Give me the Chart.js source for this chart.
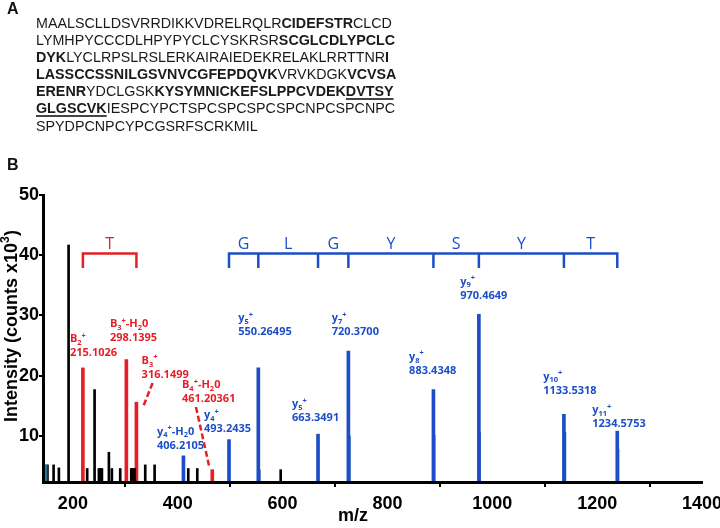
<!DOCTYPE html>
<html>
<head>
<meta charset="utf-8">
<script src="https://cdn.jsdelivr.net/npm/chart.js@4.4.1/dist/chart.umd.min.js"></script>
<style>
  html, body { margin: 0; padding: 0; background: #fff; }
  #wrap { position: relative; width: 720px; height: 528px; overflow: hidden; }
  #chart { position: absolute; left: 0; top: 0; }
  .panel { position: absolute; left: 7px; font: bold 16px "Liberation Sans", Arial, sans-serif; line-height: 16px; color: #111; }
  #seq { position: absolute; left: 36px; top: 15px; font: 14.3px "Liberation Sans", Arial, sans-serif;
         line-height: 17.1px; white-space: nowrap; color: #1a1a1a; }
  #seq u { text-decoration-thickness: 1.5px; text-underline-offset: 2px; text-decoration-color: #444; }
</style>
</head>
<body>
<div id="wrap">
  <canvas id="chart" width="720" height="528"></canvas>
  <div class="panel" style="top:1px">A</div>
  <div id="seq"></div>
  <div class="panel" style="top:157px">B</div>
</div>
<script>
// panel A: sequence, segments are [text, style] with b = bold, bu = bold + underline
const sequenceLines = [
  [['MAALSCLLDSVRRDIKKVDRELRQLR', ''], ['CIDEFSTR', 'b'], ['CLCD', '']],
  [['LYMHPYCCCDLHPYPYCLCYSKRSR', ''], ['SCGLCDLYPCLC', 'b']],
  [['DYK', 'b'], ['LYCLRPSLRSLERKAIRAIEDEKRELAKLRRTTNR', ''], ['I', 'b']],
  [['LASSCCSSNILGSVNVCGFEPDQVK', 'b'], ['VRVKDGK', ''], ['VCVSA', 'b']],
  [['ERENR', 'b'], ['YDCLGSK', ''], ['KYSYMNICKEFSLPPCVDEK', 'b'], ['DVTSY', 'bu']],
  [['GLGSCVK', 'bu'], ['IESPCYPCTSPCSPCSPCSPCNPCSPCNPC', '']],
  [['SPYDPCNPCYPCGSRFSCRKMIL', '']]
];

// panel B: peaks (m/z, intensity x10^3)
const blackMz  = [151.5, 163.2, 173.3, 191.8, 227.3, 241.4, 249.6, 252.5, 255.4, 268.7, 274.4, 290.3,
                  311.3, 314.5, 317.8, 338.0, 355.9, 420.1, 437.3, 596.4];
const blackInt = [5.2, 5.2, 4.7, 41.7, 4.6, 17.7, 4.6, 4.6, 4.6, 7.3, 4.6, 4.6,
                  4.6, 4.6, 4.6, 5.2, 5.2, 4.6, 4.6, 4.4];
const tealMz   = [146.5, 149.0];
const tealInt  = [5.2, 5.2];
const redMz    = [219.1, 302.0, 321.2, 465.9];
const redInt   = [21.3, 22.7, 15.6, 4.4];
const blueMz   = [410.9, 497.8, 553.7, 667.6, 725.5, 887.7, 974.4, 1136.6, 1238.4];
const blueInt  = [6.7, 9.4, 21.3, 10.3, 24.1, 17.7, 30.2, 13.6, 10.8];
const shoulderMz  = [555.6, 727.4, 889.1, 975.6, 1138.5, 1239.7];
const shoulderInt = [4.4, 10.0, 10.1, 10.6, 10.6, 7.8];

const xTickValues = [200, 400, 600, 800, 1000, 1200, 1400];
const yTickValues = [10, 20, 30, 40, 50];

// sequence brackets
const bBracketMz = [219.1, 321.2];
const bBracketAa = ['T'];
const yBracketMz = [497.8, 553.7, 667.6, 725.5, 887.7, 974.4, 1136.6, 1238.4];
const yBracketAa = ['G', 'L', 'G', 'Y', 'S', 'Y', 'T'];
const bracketTop = 40.3;
const bracketFoot = 38.1;
const bracketLetterAt = 41.0;

// ion labels: name, m/z text, anchor (m/z, intensity)
const bIonNames  = ['B_2^+', 'B_3^+-H_20', 'B_3^+', 'B_4^+-H_20'];
const bIonValues = ['215.1026', '298.1395', '316.1499', '461.20361'];
const bIonMz     = [194.3, 270.6, 331.1, 408.1];
const bIonInt    = [26.2, 28.7, 22.6, 18.6];
const yIonNames  = ['y_4^+-H_20', 'y_4^+', 'y_5^+', 'y_5^+', 'y_7^+', 'y_8^+', 'y_9^+', 'y_{10}^+', 'y_{11}^+'];
const yIonValues = ['406.2105', '493.2435', '550.26495', '663.3491', '720.3700', '883.4348', '970.4649', '1133.5318', '1234.5753'];
const yIonMz     = [360.3, 450.0, 515.5, 618.0, 693.8, 841.3, 938.7, 1097.1, 1190.7];
const yIonInt    = [10.9, 13.6, 29.7, 15.4, 29.7, 23.3, 35.8, 20.0, 14.4];

// dashed leader lines from B3+ and B4+-H2O labels to their peaks
const leaderFrom = [[352.1, 18.8], [434.8, 14.8]];
const leaderTo   = [[334.2, 14.9], [459.6, 5.1]];

const RED = 'rgb(228,32,38)';
const BLUE = 'rgb(28,78,200)';
const TEAL = 'rgb(40,115,155)';

document.getElementById('seq').innerHTML = sequenceLines.map(line =>
  line.map(([t, s]) => s === 'b' ? `<b>${t}</b>` : s === 'bu' ? `<b><u>${t}</u></b>` : t).join('')
).join('<br>');

const pts = (xs, ys) => xs.map((x, i) => ({x: x, y: ys[i]}));

function peakSet(xs, ys, color, width) {
  return {
    type: 'bar', data: pts(xs, ys), backgroundColor: color, borderWidth: 0,
    barThickness: width, grouped: false
  };
}

function bracketSet(ticks, color) {
  const first = ticks[0], last = ticks[ticks.length - 1];
  const data = [
    {x: first, y: bracketFoot}, {x: first, y: bracketTop}, {x: last, y: bracketTop},
    {x: last, y: bracketFoot}, {x: last, y: null}
  ];
  ticks.slice(1, -1).forEach(t => {
    data.push({x: t, y: bracketTop}, {x: t, y: bracketFoot}, {x: t, y: null});
  });
  return {
    type: 'line', data: data, borderColor: color, borderWidth: 2.5, pointRadius: 0,
    fill: false, spanGaps: false, tension: 0, borderCapStyle: 'square'
  };
}

function leaderSet(i) {
  return {
    type: 'line', data: [{x: leaderFrom[i][0], y: leaderFrom[i][1]}, {x: leaderTo[i][0], y: leaderTo[i][1]}],
    borderColor: RED, borderWidth: 2.5, borderDash: [6, 3], pointRadius: 0, fill: false
  };
}

function parseRich(str) {
  const parts = [];
  const re = /_\{([^}]*)\}|\^\{([^}]*)\}|_(.)|\^(.)|([^_^]+)/g;
  let m;
  while ((m = re.exec(str))) {
    if (m[1] !== undefined || m[3] !== undefined) parts.push({t: m[1] ?? m[3], k: 'sub'});
    else if (m[2] !== undefined || m[4] !== undefined) parts.push({t: m[2] ?? m[4], k: 'sup'});
    else parts.push({t: m[5], k: ''});
  }
  return parts;
}

function richFont(size, weight, family, k) {
  const s = k ? size * 0.68 : size;
  return `${weight} ${s}px ${family}`;
}

function measureRich(ctx, str, size, weight, family) {
  let w = 0;
  parseRich(str).forEach(p => { ctx.font = richFont(size, weight, family, p.k); w += ctx.measureText(p.t).width; });
  return w;
}

function drawRich(ctx, str, x, y, size, weight, family) {
  ctx.textAlign = 'left';
  ctx.textBaseline = 'alphabetic';
  parseRich(str).forEach(p => {
    const dy = p.k === 'sub' ? size * 0.25 : p.k === 'sup' ? -size * 0.42 : 0;
    ctx.font = richFont(size, weight, family, p.k);
    ctx.fillText(p.t, x, y + dy);
    x += ctx.measureText(p.t).width;
  });
}

const annotations = {
  id: 'annotations',
  afterDraw(chart) {
    const {ctx, chartArea, scales: {x, y}} = chart;
    ctx.save();
    const LF = '"Open Sans", "Liberation Sans", sans-serif';

    // amino-acid letters over the brackets
    ctx.font = `16px ${LF}`;
    ctx.textAlign = 'center';
    ctx.textBaseline = 'alphabetic';
    [[bBracketMz, bBracketAa, RED], [yBracketMz, yBracketAa, BLUE]].forEach(([ticks, aa, color]) => {
      ctx.fillStyle = color;
      aa.forEach((a, i) => {
        ctx.fillText(a, x.getPixelForValue((ticks[i] + ticks[i + 1]) / 2), y.getPixelForValue(bracketLetterAt));
      });
    });

    // ion labels
    [[bIonNames, bIonValues, bIonMz, bIonInt, RED], [yIonNames, yIonValues, yIonMz, yIonInt, BLUE]]
      .forEach(([names, values, mz, inten, color]) => {
        ctx.fillStyle = color;
        names.forEach((n, i) => {
          const px = x.getPixelForValue(mz[i]);
          const py = y.getPixelForValue(inten[i]) + 4;
          drawRich(ctx, n, px, py, 11, 'bold', LF);
          ctx.font = `bold 11px ${LF}`;
          ctx.fillText(values[i], px, py + 14);
        });
      });

    // axis titles
    const AF = '"Liberation Sans", Arial, sans-serif';
    ctx.fillStyle = '#000';
    const yTitle = 'Intensity (counts x10^3)';
    ctx.translate(chartArea.left - 26.5, chartArea.top + 131);
    ctx.rotate(-Math.PI / 2);
    drawRich(ctx, yTitle, -measureRich(ctx, yTitle, 18, 'bold', AF) / 2, 0, 18, 'bold', AF);
    ctx.setTransform(1, 0, 0, 1, 0, 0);
    ctx.font = `bold 18px ${AF}`;
    ctx.textAlign = 'center';
    ctx.fillText('m/z', chartArea.left + 310, chartArea.bottom + 39);
    ctx.restore();
  }
};

const tickFont = {family: '"Liberation Sans", Arial, sans-serif', size: 18, weight: 'bold'};

new Chart(document.getElementById('chart'), {
  type: 'bar',
  data: {
    datasets: [
      peakSet(tealMz, tealInt, TEAL, 2),
      peakSet(blackMz, blackInt, '#000', 2),
      peakSet(redMz, redInt, RED, 3),
      peakSet(blueMz, blueInt, BLUE, 3),
      peakSet(shoulderMz, shoulderInt, 'rgb(30,90,170)', 2),
      bracketSet(bBracketMz, RED),
      bracketSet(yBracketMz, BLUE),
      leaderSet(0),
      leaderSet(1)
    ]
  },
  options: {
    responsive: false,
    animation: false,
    events: [],
    devicePixelRatio: 1,
    layout: {padding: {top: 195, right: 18, bottom: 0, left: 0}},
    plugins: {legend: {display: false}, tooltip: {enabled: false}},
    scales: {
      x: {
        type: 'linear', min: 143, max: 1400, offset: false,
        afterBuildTicks: s => { s.ticks = xTickValues.map(v => ({value: v})); },
        afterFit: s => { s.height = 46; s.paddingLeft = 0; s.paddingRight = 0; },
        grid: {drawOnChartArea: false, tickLength: 5, color: '#000', lineWidth: 2},
        border: {color: '#000', width: 3, z: 1},
        ticks: {color: '#000', padding: 6, maxRotation: 0, autoSkip: false, font: tickFont, callback: v => String(v)}
      },
      y: {
        type: 'linear', min: 2.36, max: 50,
        afterBuildTicks: s => { s.ticks = yTickValues.map(v => ({value: v})); },
        afterFit: s => { s.width = 43; s.paddingTop = 0; s.paddingBottom = 0; },
        grid: {drawOnChartArea: false, tickLength: 4, color: '#000', lineWidth: 2},
        border: {color: '#000', width: 3, z: 1},
        ticks: {color: '#000', padding: 0, font: tickFont, callback: v => String(v)}
      }
    }
  },
  plugins: [annotations]
});
</script>
</body>
</html>
